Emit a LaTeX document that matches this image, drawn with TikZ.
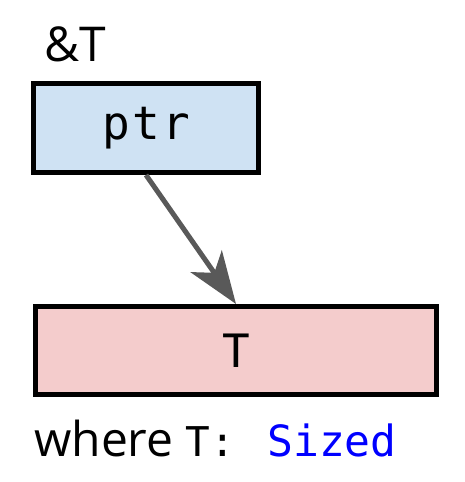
\documentclass[tikz,border=0pt]{standalone}
\usepackage{fontspec}
\setmainfont{Open Sans}
\setmonofont{DejaVu Sans Mono}
\newfontfamily\cellmono[LetterSpace=5]{DejaVu Sans Mono}
\usetikzlibrary{arrows.meta, positioning, calc}
\definecolor{PtrBlue}{HTML}{CFE2F3}
\definecolor{ValPink}{HTML}{F4CCCC}
\definecolor{ArrowGray}{HTML}{595959}
\definecolor{TraitBlue}{HTML}{0000FF}

\begin{document}
\begin{tikzpicture}[x=1pt, y=1pt,
    cell/.style={draw=black, line width=5pt, inner sep=0pt, font=\fontsize{46}{50}\selectfont\cellmono},
    label/.style={inner sep=0pt, anchor=base west, font=\fontsize{48}{52}\selectfont}]
        \useasboundingbox (0,0) rectangle (464,482);
        % Boxes
        \node [cell, fill=PtrBlue, minimum width=225pt, minimum height=89pt] (ptr) at (146,354) {ptr};
        \node [cell, fill=ValPink, minimum width=401pt, minimum height=88pt] (val) at (236,131.5) {T};
        
        % Labels
        \node [label] (ref) at (44,420) {\&T};
        \node [label] (bound) at (34,25) {where {\fontsize{41}{44}\selectfont\ttfamily T:}\hspace{32pt}\textcolor{TraitBlue}{\fontsize{43}{46}\selectfont\ttfamily Sized}};
        
        % Pointer
        \draw [ArrowGray, line width=5pt, -{Stealth[length=52pt, width=38pt, inset=14pt]}] (ptr.south) -- (val.north);
    \end{tikzpicture}
\end{document}
